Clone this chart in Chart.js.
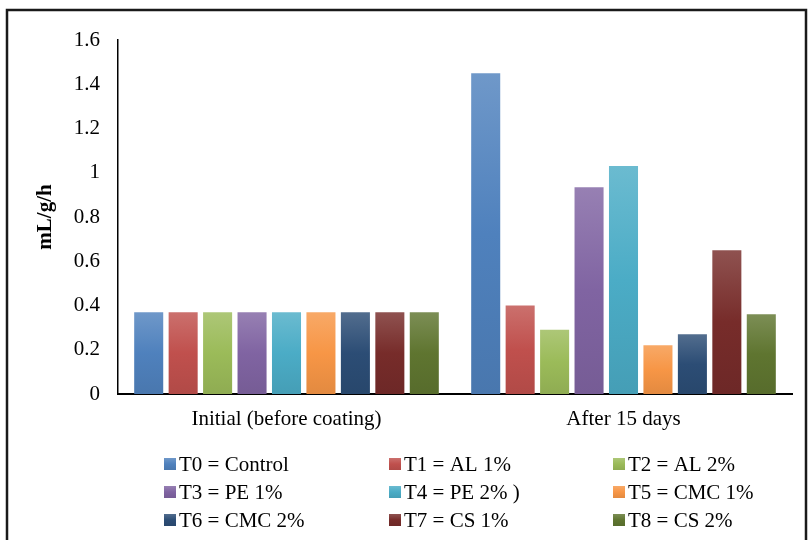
<!DOCTYPE html>
<html>
<head>
<meta charset="utf-8">
<script src="https://cdn.jsdelivr.net/npm/chart.js@4/dist/chart.umd.min.js"></script>
<style>
  html, body { margin: 0; padding: 0; background: #fff; }
  #wrap { width: 811px; height: 540px; position: relative; }
</style>
</head>
<body>
<div id="wrap"><canvas id="c" width="811" height="540"></canvas></div>
<script>
// Respiration rate (mL/g/h) per treatment, before coating and after 15 days
const categories = ['Initial (before coating)', 'After 15 days'];
const treatments = ['T0 = Control', 'T1 = AL 1%', 'T2 = AL 2%', 'T3 = PE 1%', 'T4 = PE 2% )',
                    'T5 = CMC 1%', 'T6 = CMC 2%', 'T7 = CS 1%', 'T8 = CS 2%'];
const initialValues = [0.37, 0.37, 0.37, 0.37, 0.37, 0.37, 0.37, 0.37, 0.37];
const after15Values = [1.45, 0.40, 0.29, 0.935, 1.03, 0.22, 0.27, 0.65, 0.36];
const baseColors = ['#4F81BD', '#C0504D', '#9BBB59', '#8064A2', '#4BACC6',
                    '#F79646', '#2C4D75', '#772C2A', '#5F7530'];
const yTicks = [0, 0.2, 0.4, 0.6, 0.8, 1, 1.2, 1.4, 1.6];

const FONT = '"Liberation Serif", "Times New Roman", serif';

function hexToRgb(h) {
  const n = parseInt(h.slice(1), 16);
  return [(n >> 16) & 255, (n >> 8) & 255, n & 255];
}
function mix(hex, target, t) {
  const c = hexToRgb(hex);
  return 'rgb(' + c.map(v => Math.round(v + (target - v) * t)).join(',') + ')';
}
function barGradient(ctx, hex, top, bottom) {
  const g = ctx.createLinearGradient(0, top, 0, bottom);
  g.addColorStop(0, mix(hex, 255, 0.18));
  g.addColorStop(0.5, hex);
  g.addColorStop(1, mix(hex, 0, 0.08));
  return g;
}

const datasets = treatments.map((name, i) => ({
  label: name,
  data: [initialValues[i], after15Values[i]],
  baseColor: baseColors[i],
  backgroundColor: (context) => {
    const chart = context.chart;
    const ys = chart.scales && chart.scales.y;
    if (!chart.chartArea || !ys || context.parsed == null) return baseColors[i];
    const top = ys.getPixelForValue(context.parsed.y);
    const bottom = ys.getPixelForValue(0);
    if (!isFinite(top) || !isFinite(bottom) || bottom - top < 1) return baseColors[i];
    return barGradient(chart.ctx, baseColors[i], top, bottom);
  },
  borderWidth: 0,
  categoryPercentage: 0.92,
  barPercentage: 0.843
}));

// Outer frame (left, top, right edges) around the whole figure
const framePlugin = {
  id: 'frame',
  afterDraw(chart) {
    const ctx = chart.ctx;
    ctx.save();
    ctx.strokeStyle = '#1a1a1a';
    ctx.lineWidth = 2.5;
    ctx.beginPath();
    ctx.moveTo(7, chart.height + 5);
    ctx.lineTo(7, 10);
    ctx.lineTo(806, 10);
    ctx.lineTo(806, chart.height + 5);
    ctx.stroke();
    ctx.restore();
  }
};

// Three-column legend under the axis
const gridLegendPlugin = {
  id: 'gridLegend',
  afterDraw(chart) {
    const ctx = chart.ctx;
    const cols = 3, colX = [164, 389, 613], rowY0 = chart.chartArea.bottom + 70, rowH = 28, box = 12;
    ctx.save();
    ctx.font = '21px ' + FONT;
    ctx.textBaseline = 'middle';
    chart.data.datasets.forEach((ds, i) => {
      const x = colX[i % cols];
      const y = rowY0 + Math.floor(i / cols) * rowH;
      ctx.fillStyle = barGradient(ctx, ds.baseColor, y - box / 2, y + box / 2);
      ctx.fillRect(x, y - box / 2, box, box);
      ctx.fillStyle = '#000';
      ctx.fillText(ds.label, x + box + 3, y + 1);
    });
    ctx.restore();
  }
};

new Chart(document.getElementById('c'), {
  type: 'bar',
  data: { labels: categories, datasets },
  options: {
    responsive: false,
    animation: false,
    devicePixelRatio: 1,
    layout: { padding: { top: 40, right: 19, bottom: 106, left: 0 } },
    plugins: { legend: { display: false }, tooltip: { enabled: false } },
    scales: {
      x: {
        grid: { display: false, drawTicks: false },
        border: { display: true, color: '#000', width: 2 },
        ticks: { color: '#000', font: { family: FONT, size: 21 }, padding: 13, maxRotation: 0 },
        afterFit: (s) => { s.height = 40; }
      },
      y: {
        min: 0,
        max: 1.6,
        afterBuildTicks: (s) => { s.ticks = yTicks.map(v => ({ value: v })); },
        grid: { display: false, drawTicks: false },
        border: { display: true, color: '#000', width: 1.5 },
        ticks: {
          color: '#000',
          font: { family: FONT, size: 21 },
          padding: 18,
          callback: (v) => String(Number(v.toFixed(1)))
        },
        title: {
          display: true,
          text: 'mL/g/h',
          color: '#000',
          font: { family: FONT, size: 21, weight: 'bold' },
          padding: { top: 33, bottom: 0 }
        },
        afterFit: (s) => { s.width = 118; }
      }
    }
  },
  plugins: [framePlugin, gridLegendPlugin]
});
</script>
</body>
</html>
